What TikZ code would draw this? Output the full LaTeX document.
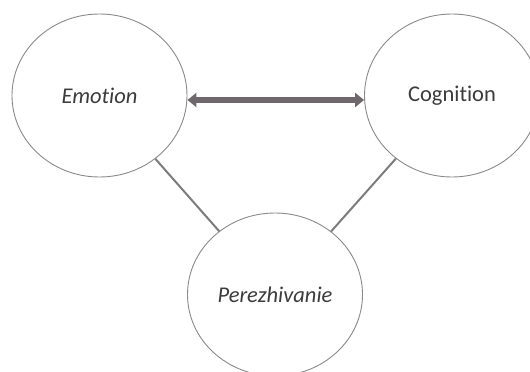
\documentclass[tikz,border=0pt]{standalone}
\usepackage{fontspec}
\setmainfont[RawFeature={-liga}]{Carlito}
\usetikzlibrary{shapes.geometric,arrows.meta}
\definecolor{rimgray}{HTML}{8A8A8A}
\definecolor{linkgray}{HTML}{7C7C7C}
\definecolor{arrowgray}{HTML}{6E686C}
\definecolor{textgray}{HTML}{3C3C3C}
\tikzset{
  concept/.style={ellipse, draw=rimgray, line width=0.9pt, fill=white,
    minimum width=175pt, minimum height=163pt, inner sep=0pt,
    text=textgray, font=\fontsize{22.5}{26}\selectfont},
  link/.style={draw=linkgray, line width=2pt},
  duplex/.style={draw=arrowgray, line width=5.5pt,
    {Triangle[width=14pt,length=9pt]}-{Triangle[width=14pt,length=9pt]}},
}
\begin{document}
\begin{tikzpicture}[x=1pt,y=-1pt]
  \useasboundingbox (0,0) rectangle (530,372);
  \clip (0,0) rectangle (530,372);
  \node[concept] (emo) at (99.5,95.5) {\itshape Emotion};
  \node[concept] (cog) at (452,95.5) {Cognition};
  \node[concept] (per) at (275,294.5) {\itshape Perezhivanie};
  \draw[link] (emo) -- (per);
  \draw[link] (cog) -- (per);
  \draw[duplex] ([yshift=-4.5pt]emo.east) -- ([yshift=-4.5pt]cog.west);
\end{tikzpicture}
\end{document}
